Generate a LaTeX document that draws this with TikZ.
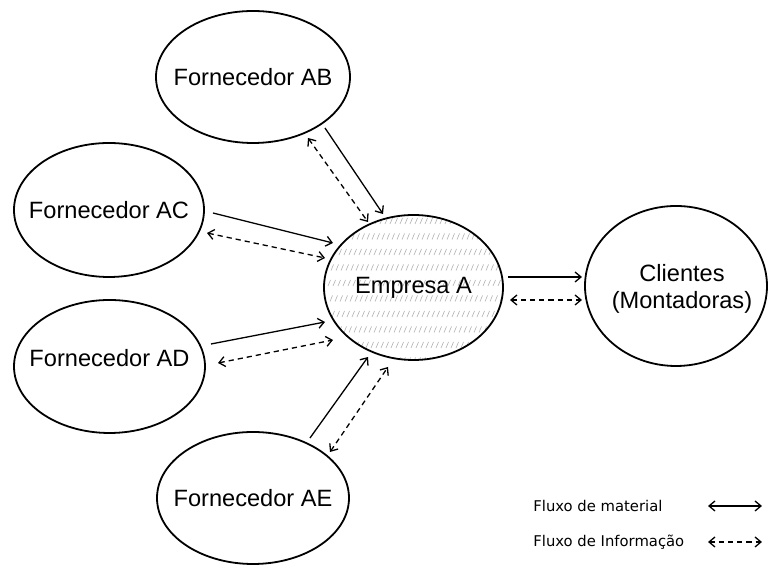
\documentclass[tikz,border=0pt]{standalone}
\usepackage{fontspec}
\setmainfont{Liberation Sans}
\newfontfamily\legendfont{DejaVu Sans}
\usetikzlibrary{arrows.meta,shapes.geometric}
\begin{document}
\begin{tikzpicture}[x=0.5pt,y=-0.5pt,
  >={Straight Barb[length=3pt,width=5pt]},
  party/.style={draw, ellipse, line width=0.9pt, inner sep=0pt},
  every label/.style={font=\fontsize{11.8}{13.5}\selectfont, align=center, inner sep=0pt},
  mat/.style={line width=0.65pt},
  info/.style={line width=0.65pt, dash pattern=on 2.6pt off 2pt},
  legendtext/.style={font=\legendfont\fontsize{7.4}{9}\selectfont, inner sep=0pt, anchor=west},
  hatch/.style={gray!60, line width=0.3pt}]

\useasboundingbox (0,0) rectangle (768,565);
\fill[white] (0,0) rectangle (768,565);

% suppliers and customers
\node[party, minimum width=97pt, minimum height=66pt, label=center:{Fornecedor AB}] (AB) at (253,77) {};
\node[party, minimum width=95pt, minimum height=67pt, label=center:{Fornecedor AC}] (AC) at (109,210) {};
\node[party, minimum width=95.5pt, minimum height=66.5pt, label={[yshift=4pt]center:{Fornecedor AD}}] (AD) at (109.5,366.5) {};
\node[party, minimum width=96pt, minimum height=66pt, label=center:{Fornecedor AE}] (AE) at (253,498) {};
\node[party, minimum width=91pt, minimum height=80pt, label={[xshift=3pt,yshift=-1.5pt]center:{Clientes\\(Montadoras)}}] (CL) at (676,286) {};

% hatched focal company: rows of short slanted strokes
\coordinate (EAc) at (413.5,287.5);
\begin{scope}
  \clip (EAc) ellipse [x radius=44.75pt, y radius=36.25pt];
  \foreach \yy [count=\i] in {221,236.5,...,362} {
    \foreach \xx in {318,323,...,510} {
      \draw[hatch] (\xx+2*\i,\yy+3) -- ++(2.5,-6);
    }
  }
\end{scope}
\node[party, minimum width=89.5pt, minimum height=72.5pt, label=center:{Empresa A}] (EA) at (EAc) {};

% material (solid) and information (dashed) flows
\draw[mat, ->] ([shift={(72,51)}]AB.center) -- ([shift={(-30.5,-73.5)}]EA.center);
\draw[info, <->] ([shift={(55,61)}]AB.center) -- ([shift={(-45.5,-65.5)}]EA.center);

\draw[mat, ->] ([shift={(104,3)}]AC.center) -- ([shift={(-80.5,-44.5)}]EA.center);
\draw[info, <->] ([shift={(98,23)}]AC.center) -- ([shift={(-88.5,-29.5)}]EA.center);

\draw[mat, ->] ([shift={(101.5,-22.5)}]AD.center) -- ([shift={(-88.5,34.5)}]EA.center);
\draw[info, <->] ([shift={(108.5,-3.5)}]AD.center) -- ([shift={(-80.5,52.5)}]EA.center);

\draw[mat, ->] ([shift={(57,-60)}]AE.center) -- ([shift={(-45.5,69.5)}]EA.center);
\draw[info, <->] ([shift={(77,-46)}]AE.center) -- ([shift={(-25.5,79.5)}]EA.center);

\draw[mat, ->] ([shift={(94.5,-10.5)}]EA.center) -- ([shift={(-94,-9)}]CL.center);
\draw[info, <->] ([shift={(96.5,12.5)}]EA.center) -- ([shift={(-94,14)}]CL.center);

% legend
\node[legendtext] (L1) at (533,506) {Fluxo de material};
\node[legendtext] (L2) at (533,542) {Fluxo de Informação};
\coordinate (L1a) at (708,506);
\coordinate (L1b) at (762,506);
\coordinate (L2a) at (708,542);
\coordinate (L2b) at (762,542);
\draw[mat, <->] (L1a) -- (L1b);
\draw[info, <->] (L2a) -- (L2b);
\end{tikzpicture}
\end{document}
